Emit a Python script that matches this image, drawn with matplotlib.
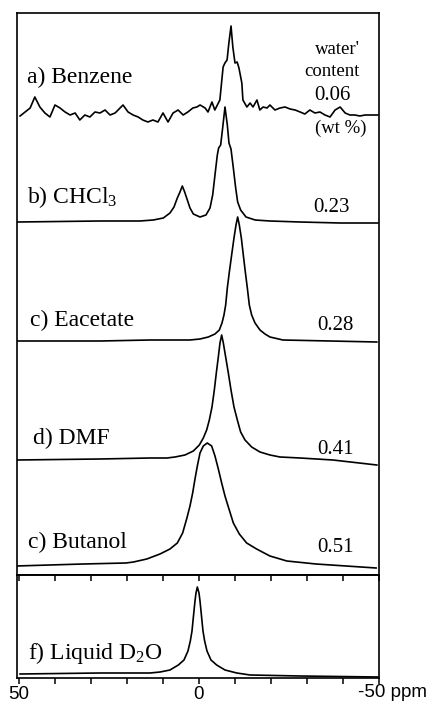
import matplotlib
matplotlib.use("Agg")
import matplotlib.pyplot as plt

plt.rcParams['mathtext.fontset'] = 'custom'
plt.rcParams['mathtext.rm'] = 'Liberation Serif'
plt.rcParams['mathtext.it'] = 'Liberation Serif:italic'

# ---------------- data (ppm, intensity above baseline) ----------------
benz_ppm = [49.7, 48.3, 46.9, 45.6, 44.2, 42.8, 41.4, 40.0, 38.6, 37.2, 35.8, 34.4, 33.1, 31.7,
            30.3, 28.9, 27.5, 26.1, 24.7, 23.3, 21.1, 19.7, 18.3, 16.9, 15.6, 14.2, 12.8, 11.4,
            10.0, 8.6, 7.2, 5.8, 4.4, 3.1, 1.7, 0.6, -0.3, -1.7, -2.5, -3.6, -4.4, -5.8, -6.7,
            -7.2, -7.8, -8.3, -8.9, -9.4, -10.0, -10.6, -11.1, -11.9, -12.2, -13.3, -14.2, -15.0,
            -16.1, -16.9, -17.8, -18.9, -19.7, -21.1, -22.5, -23.9, -25.3, -26.7, -28.1, -29.4,
            -30.8, -32.2, -33.6, -35.0, -36.4, -37.8, -39.2, -40.6, -41.9, -43.3, -44.7, -46.1,
            -47.5, -49.7]
benz_int = [-1, 3, 7, 18, 8, 2, -2, 10, 7, 3, 0, 2, -5, 0, -2, 3, 2, 5, 0, 2, 10, 3, 0, -2, -5,
            -7, -5, -7, 2, -7, 2, 5, 0, 3, 7, 8, 10, 7, 3, 13, 5, 15, 48, 52, 55, 72, 89, 68, 52,
            53, 47, 32, 15, 8, 12, 8, 15, 5, 8, 7, 10, 5, 7, 8, 6, 5, 3, 1, 5, 2, 3, 0, -2, 5, 8,
            2, 0, 0, -1, 0, 0, 0]

chcl3_ppm = [50.3, 27.5, 16.4, 12.7, 9.9, 8.06, 6.94, 6.02, 5.28, 4.63, 3.98, 3.24, 2.5, 1.57,
             -0.28, -1.94, -3.06, -3.8, -4.44, -5.09, -5.46, -6.02, -6.57, -7.22, -7.87, -8.33,
             -8.89, -9.54, -10.19, -10.74, -11.57, -13.06, -15.6, -19.7, -28.1, -39.2, -49.7]
chcl3_int = [0, 1, 1, 2, 4, 9, 15, 24, 30, 36, 30, 22, 14, 8, 5, 7, 14, 27, 47, 67, 74, 77, 94,
             115, 97, 79, 73, 54, 34, 20, 12, 5, 2, 1, 0, -1, -1]

eac_ppm = [50.6, 27.5, 13.6, 2.5, -0.28, -2.59, -4.44, -5.65, -6.39, -6.94, -7.41, -7.87, -8.43,
           -9.07, -9.72, -10.28, -10.74, -11.2, -11.76, -12.31, -12.87, -13.43, -13.98, -14.63,
           -15.56, -16.94, -18.33, -19.72, -23.3, -36.4, -49.4]
eac_int = [0, 0, 1, 1, 2, 4, 7, 11, 18, 26, 36, 53, 69, 86, 103, 116, 124, 116, 103, 86, 69, 53,
           36, 26, 18, 11, 7, 4, 1, 0, -1]

dmf_ppm = [50.6, 27.5, 13.6, 8.9, 6.67, 3.89, 1.57, -0.09, -1.2, -2.13, -2.87, -3.61, -4.26,
           -4.81, -5.37, -5.83, -6.3, -6.76, -7.41, -8.15, -8.89, -9.72, -10.65, -11.57, -12.78,
           -14.63, -16.94, -19.72, -22.5, -28.1, -37.2, -49.4]
dmf_int = [0, 1, 2, 2, 3, 5, 9, 15, 22, 30, 40, 53, 70, 87, 103, 117, 125, 117, 103, 87, 70, 53,
           40, 28, 20, 13, 8, 5, 3, 2, 0, -5]

but_ppm = [50.8, 32.2, 20.3, 18.2, 14.5, 10.83, 8.06, 6.02, 4.54, 3.43, 2.5, 1.76, 1.11, 0.46,
           -0.28, -1.2, -2.3, -3.52, -4.44, -5.37, -6.3, -7.22, -8.33, -9.54, -11.2, -13.24,
           -16.0, -19.7, -24.4, -32.5, -49.2]
but_int = [0, 2, 3, 4, 7, 12, 17, 23, 33, 47, 60, 73, 87, 100, 113, 120, 123, 120, 110, 97, 83,
           70, 57, 43, 32, 23, 17, 10, 5, 2, -2]

d2o_ppm = [49.7, 27.5, 13.6, 10.8, 8.06, 5.74, 4.17, 3.06, 2.41, 1.94, 1.67, 1.39, 1.11, 0.83,
           0.46, 0.0, -0.28, -0.56, -0.83, -1.11, -1.57, -2.22, -3.33, -4.91, -7.22, -10.5,
           -14.2, -28.1, -49.7]
d2o_int = [0, 1, 1, 2, 4, 9, 14, 23, 33, 43, 53, 63, 73, 81, 87, 81, 73, 63, 53, 43, 33, 23, 14,
           9, 4, 1, -1, -2, -3]

labels = ["a) Benzene", "b) CHCl$_3$", "c) Eacetate", "d) DMF", "c) Butanol", "f) Liquid D$_2$O"]
water = ["0.06", "0.23", "0.28", "0.41", "0.51"]
tick_vals = [50, 40, 30, 20, 10, 0, -10, -20, -30, -40, -50]
tick_text = ["50", "", "", "", "", "0", "", "", "", "", ""]

# ---------------- layout ----------------
W, H = 428, 704
fig = plt.figure(figsize=(W / 100, H / 100), dpi=100)
L, R, TOP, MID, BOT = 17, 379, 13, 575, 678


def box(y0, y1):
    return [L / W, 1 - y1 / H, (R - L) / W, (y1 - y0) / H]


ax_top = fig.add_axes(box(TOP, MID))
ax_bot = fig.add_axes(box(MID, BOT))
xl = (50.55, -50.0)
for ax in (ax_top, ax_bot):
    ax.set_xlim(*xl)
    for s in ax.spines.values():
        s.set_linewidth(1.2)
        s.set_color('black')

ax_top.set_ylim(0, MID - TOP)
ax_bot.set_ylim(0, BOT - MID)
ax_top.set_xticks([])
ax_top.set_yticks([])
ax_bot.set_yticks([])

lw = 1.2
offsets = [460, 353, 234, 115, 9]
series = [(benz_ppm, benz_int), (chcl3_ppm, chcl3_int), (eac_ppm, eac_int),
          (dmf_ppm, dmf_int), (but_ppm, but_int)]
for (xs, ys), off in zip(series, offsets):
    ax_top.plot(xs, [off + v for v in ys], color='black', lw=lw, solid_joinstyle='round')
ax_bot.plot(d2o_ppm, [4 + v for v in d2o_int], color='black', lw=lw, solid_joinstyle='round')

# ticks
ax_bot.set_xticks(tick_vals)
ax_bot.set_xticklabels(tick_text, family='Liberation Sans', fontsize=13.5)
ax_bot.tick_params(axis='x', direction='out', length=4, width=1.1, pad=2)
sec = ax_bot.secondary_xaxis('top')
sec.set_xticks(tick_vals)
sec.tick_params(axis='x', direction='in', length=4, width=1.1, labeltop=False)
sec.spines['top'].set_linewidth(1.2)
ax_bot.annotate("-50 ppm", xy=(-50, 0), xycoords=('data', 'axes fraction'),
                xytext=(-15, -4), textcoords='offset points', ha='left', va='top',
                family='Liberation Sans', fontsize=13.5)

# labels
def ftext(x, y, s, **kw):
    fig.text(x / W, 1 - y / H, s, va='center', **kw)

lab_pos = [(27, 77), (27, 197), (30, 320), (33, 438), (28, 542), (28, 653)]
for (x, y), s in zip(lab_pos, labels):
    ftext(x, y, s, family='Liberation Serif', fontsize=17)

wat_pos = [(332, 95), (331, 208), (335, 325), (336, 450), (335, 548)]
for (x, y), s in zip(wat_pos, water):
    ftext(x, y, s, family='Liberation Serif', fontsize=15, ha='center')

ftext(337, 50, "water'", family='Liberation Serif', fontsize=13.5, ha='center')
ftext(332, 72, "content", family='Liberation Serif', fontsize=13.5, ha='center')
ftext(341, 128, "(wt %)", family='Liberation Serif', fontsize=13.5, ha='center')

fig.savefig("out.png", dpi=100)
